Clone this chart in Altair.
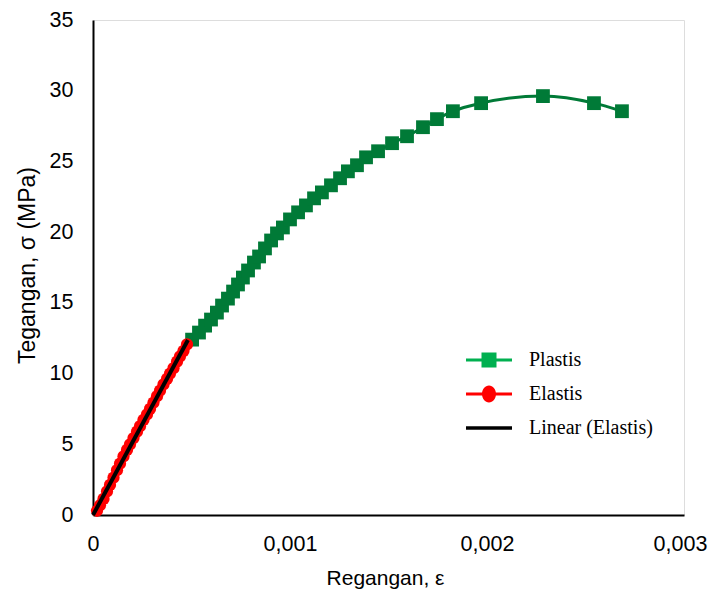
import altair as alt
import pandas as pd

# Plastis (strain, stress MPa)
plastis_x = [0.000503, 0.000538, 0.000569, 0.000599, 0.000629, 0.000655, 0.000685, 0.000711,
             0.000736, 0.000761, 0.000787, 0.000817, 0.000843, 0.000873, 0.000904, 0.000934,
             0.000964, 0.001000, 0.001041, 0.001081, 0.001122, 0.001162, 0.001208, 0.001254,
             0.001294, 0.001340, 0.001386, 0.001447, 0.001518, 0.001594, 0.001675, 0.001746,
             0.001827, 0.001970, 0.002284, 0.002543, 0.002685]
plastis_y = [12.40, 12.90, 13.39, 13.82, 14.31, 14.81, 15.30, 15.80,
             16.30, 16.79, 17.29, 17.85, 18.28, 18.85, 19.41, 19.91,
             20.33, 20.90, 21.40, 21.89, 22.39, 22.81, 23.31, 23.81,
             24.30, 24.73, 25.29, 25.72, 26.29, 26.78, 27.42, 27.99,
             28.55, 29.12, 29.62, 29.12, 28.55]

# Elastis
elastis_x = [0.0000203, 0.0000355, 0.0000533, 0.0000711, 0.0000863, 0.0001041, 0.0001218,
             0.0001371, 0.0001548, 0.0001726, 0.0001878, 0.0002056, 0.0002234, 0.0002386,
             0.0002563, 0.0002741, 0.0002893, 0.0003071, 0.0003249, 0.0003401, 0.0003579,
             0.0003756, 0.0003909, 0.0004086, 0.0004264, 0.0004416, 0.0004594, 0.0004772]
elastis_y = [0.30, 0.69, 1.14, 1.67, 2.13, 2.64, 3.17,
             3.63, 4.14, 4.60, 4.99, 5.44, 5.89, 6.28,
             6.73, 7.11, 7.50, 7.95, 8.40, 8.79, 9.24,
             9.62, 10.00, 10.38, 10.84, 11.22, 11.61, 12.06]

series_names = ["Plastis", "Elastis", "Linear (Elastis)"]
x_ticks = [0, 0.001, 0.002, 0.003]
y_ticks = [0, 5, 10, 15, 20, 25, 30, 35]

df = pd.concat([
    pd.DataFrame({"x": plastis_x, "y": plastis_y, "series": "Plastis"}),
    pd.DataFrame({"x": elastis_x, "y": elastis_y, "series": "Elastis"}),
], ignore_index=True)

GREEN = "#007A37"
RED = "#FF0000"
AX_FONT = "Liberation Sans"

xenc = alt.X("x:Q", scale=alt.Scale(domain=[0, 0.003], nice=False),
             axis=alt.Axis(values=x_ticks, grid=False, ticks=False, domainColor="black",
                           domainWidth=2, labelFont=AX_FONT, labelFontSize=21.5,
                           labelColor="black", labelPadding=18, labelBaseline="top",
                           labelFlush=False,
                           labelOffset={"condition": {"test": "datum.value >= 0.0029", "value": -4},
                                        "value": 0},
                           labelExpr="datum.value == 0 ? '0' : replace(format(datum.value, '.3f'), '.', ',')",
                           title="Regangan, ε", titleFont=AX_FONT, titleFontSize=21,
                           titleFontWeight="normal", titleColor="black",
                           titleX=292, titleY=63, titleBaseline="middle"))
yenc = alt.Y("y:Q", scale=alt.Scale(domain=[0, 35], nice=False),
             axis=alt.Axis(values=y_ticks, grid=False, ticks=False, domainColor="black",
                           domainWidth=2, labelFont=AX_FONT, labelFontSize=21.5,
                           labelColor="black", labelPadding=20, labelFlush=False,
                           title="Tegangan, σ (MPa)", titleFont=AX_FONT, titleFontSize=23,
                           titleFontWeight="normal", titleColor="black",
                           titleX=-66, titleY=245, titleBaseline="middle", titleAlign="center"))

base = alt.Chart(df)

plast_line = base.transform_filter("datum.series == 'Plastis'").mark_line(
    color=GREEN, strokeWidth=3, interpolate="monotone").encode(x=xenc, y=yenc)
plast_pts = base.transform_filter("datum.series == 'Plastis'").mark_point(
    shape="square", filled=True, size=190, opacity=1, color=GREEN).encode(x=xenc, y=yenc)
elas_pts = base.transform_filter("datum.series == 'Elastis'").mark_point(
    shape="circle", filled=True, size=150, opacity=1, color=RED).encode(x=xenc, y=yenc)
trend = base.transform_filter("datum.series == 'Elastis'").transform_regression(
    "x", "y", method="linear", extent=[0, 0.000482]).mark_line(
    color="black", strokeWidth=4).encode(x=xenc, y=yenc)

legend_paths = [
    "M-2.3,-0.15H2.3V0.15H-2.3Z M-0.75,-0.75H0.75V0.75H-0.75Z",
    "M-2.3,-0.15H2.3V0.15H-2.3Z M0.7,0A0.7,0.85 0 1,1 -0.7,0A0.7,0.85 0 1,1 0.7,0Z",
    "M-2.3,-0.17H2.3V0.17H-2.3Z",
]
legend_layer = base.transform_filter("false").mark_point(filled=True, opacity=1).encode(
    x=xenc, y=yenc,
    color=alt.Color("series:N", scale=alt.Scale(domain=series_names,
                                                range=["#00B050", RED, "black"]),
                    legend=alt.Legend(title=None, orient="none", legendX=385, legendY=329,
                                      symbolSize=400, labelFont="Liberation Serif",
                                      labelFontSize=20, labelColor="black", labelOffset=29,
                                      rowPadding=13, padding=0, symbolOpacity=1)),
    shape=alt.Shape("series:N", scale=alt.Scale(domain=series_names, range=legend_paths),
                    legend=None),
)

chart = alt.layer(plast_line, plast_pts, elas_pts, trend, legend_layer).properties(
    width=591, height=495,
    autosize=alt.AutoSizeParams(type="none"),
    padding={"left": 85, "top": 12, "right": 24, "bottom": 80},
).configure_view(stroke=None).configure(background="white")

chart.save("out.html", embed_options={"renderer": "svg", "actions": False})
